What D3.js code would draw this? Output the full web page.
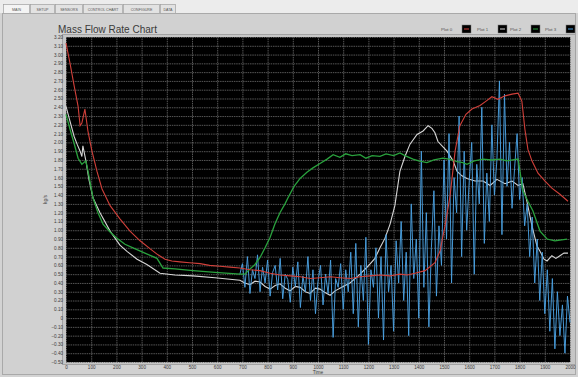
<!DOCTYPE html>
<html>
<head>
<meta charset="utf-8">
<script src="https://d3js.org/d3.v7.min.js"></script>
<style>
  body { margin: 0; background: #d3d3d3; }
  svg { display: block; }
  .axis text { fill: #3a3a3a; font-family: 'Liberation Sans', Arial, sans-serif; font-size: 4.6px; }
  .axis line { stroke: #6c6c6c; stroke-width: 0.8; }
  .axis path { stroke: none; }
</style>
</head>
<body>
<div id="chart"></div>
<script>
// ---- data (time in s, mass flow) ----
var tabNames = ['MAIN', 'SETUP', 'SENSORS', 'CONTROL CHART', 'CONFIGURE', 'DATA'];
var plotNames = ['Plot 0', 'Plot 1', 'Plot 2', 'Plot 3'];
var xTicks = [0,100,200,300,400,500,600,700,800,900,1000,1100,1200,1300,1400,1500,1600,1700,1800,1900,2000];
var yTicks = [-0.5,-0.4,-0.3,-0.2,-0.1,0,0.1,0.2,0.3,0.4,0.5,0.6,0.7,0.8,0.9,1.0,1.1,1.2,1.3,1.4,1.5,1.6,1.7,1.8,1.9,
              2.0,2.1,2.2,2.3,2.4,2.5,2.6,2.7,2.8,2.9,3.0,3.1,3.2];

var plot0 = [[0,3.13],[16,2.90],[32,2.65],[48,2.41],[56,2.19],[63,2.22],[75,2.38],[87,2.13],[103,1.90],[123,1.67],
  [143,1.47],[175,1.28],[214,1.13],[254,0.99],[294,0.88],[333,0.79],[365,0.72],[393,0.67],[420,0.65],[452,0.64],
  [490,0.63],[532,0.62],[570,0.60],[611,0.59],[650,0.58],[690,0.57],[730,0.55],[770,0.54],[810,0.51],[849,0.49],
  [890,0.48],[929,0.47],[970,0.45],[1008,0.46],[1050,0.47],[1087,0.46],[1130,0.45],[1167,0.47],[1205,0.48],[1246,0.49],
  [1285,0.48],[1325,0.50],[1355,0.49],[1385,0.51],[1425,0.54],[1464,0.63],[1484,0.76],[1504,1.05],[1524,1.39],[1544,1.90],
  [1563,2.19],[1587,2.32],[1611,2.38],[1643,2.42],[1667,2.47],[1690,2.52],[1714,2.49],[1742,2.53],[1770,2.55],[1794,2.56],
  [1809,2.47],[1821,2.15],[1833,1.92],[1849,1.79],[1873,1.65],[1901,1.56],[1928,1.48],[1960,1.41],[1992,1.33]];

var plot1 = [[0,2.41],[16,2.24],[32,2.07],[44,1.98],[56,1.90],[63,1.84],[67,1.96],[79,1.79],[91,1.58],[107,1.37],
  [135,1.20],[175,0.99],[214,0.83],[242,0.76],[282,0.67],[321,0.61],[373,0.51],[432,0.49],[504,0.48],[591,0.46],
  [690,0.43],[710,0.40],[730,0.38],[750,0.42],[770,0.41],[790,0.36],[810,0.33],[830,0.37],[849,0.39],[870,0.34],
  [889,0.31],[910,0.36],[929,0.35],[950,0.30],[968,0.28],[990,0.34],[1008,0.33],[1028,0.29],[1048,0.26],[1068,0.31],
  [1087,0.34],[1107,0.37],[1127,0.40],[1147,0.45],[1167,0.50],[1198,0.59],[1226,0.68],[1246,0.80],[1266,0.91],[1286,1.07],
  [1305,1.28],[1325,1.67],[1345,1.84],[1365,1.98],[1393,2.09],[1417,2.13],[1437,2.19],[1452,2.16],[1464,2.11],[1476,2.01],
  [1496,1.95],[1512,1.90],[1536,1.79],[1552,1.67],[1571,1.62],[1591,1.59],[1623,1.56],[1655,1.56],[1683,1.51],[1710,1.58],
  [1742,1.53],[1770,1.56],[1794,1.51],[1813,1.53],[1829,1.33],[1849,1.05],[1869,0.82],[1881,0.76],[1897,0.67],[1909,0.65],
  [1928,0.71],[1944,0.68],[1960,0.71],[1976,0.74],[1992,0.74]];

var plot2 = [[0,2.32],[16,2.15],[32,1.99],[48,1.82],[63,1.75],[79,1.79],[91,1.62],[107,1.37],[127,1.20],[147,1.07],
  [175,0.98],[202,0.91],[234,0.84],[266,0.80],[313,0.74],[361,0.68],[385,0.57],[432,0.56],[504,0.54],[591,0.52],
  [690,0.50],[710,0.50],[730,0.56],[750,0.61],[770,0.69],[790,0.80],[810,0.92],[829,1.07],[849,1.20],[869,1.30],
  [881,1.37],[905,1.50],[929,1.59],[956,1.66],[980,1.71],[1008,1.76],[1036,1.81],[1060,1.86],[1087,1.83],[1110,1.87],
  [1135,1.85],[1167,1.86],[1190,1.82],[1215,1.85],[1246,1.84],[1270,1.87],[1300,1.85],[1325,1.88],[1345,1.85],[1377,1.81],
  [1400,1.79],[1432,1.77],[1460,1.80],[1496,1.82],[1520,1.81],[1552,1.78],[1575,1.77],[1591,1.75],[1620,1.79],[1655,1.81],
  [1690,1.80],[1722,1.81],[1750,1.79],[1794,1.81],[1813,1.45],[1833,1.33],[1853,1.22],[1881,0.99],[1909,0.90],[1940,0.88],
  [1988,0.90]];

// plot 3 is sampled every 10 s from 690 s
var plot3Start = 690, plot3Step = 10;
var plot3 = [0.50,0.62,0.35,0.70,0.28,0.55,0.45,0.72,0.30,0.58,
  0.40,0.66,0.25,0.52,0.60,0.32,0.68,0.22,0.50,0.44,
  0.18,0.58,0.36,0.64,0.12,0.48,0.30,0.70,0.20,0.55,
  0.05,0.42,0.60,0.15,0.50,0.28,0.66,-0.22,0.45,0.35,
  0.62,0.10,0.55,0.30,0.75,0.05,
  0.85,-0.10,0.60,0.20,0.92,-0.30,0.55,0.35,0.80,0.00,
  0.70,-0.25,0.95,0.30,0.60,-0.15,0.88,0.40,
  1.10,0.20,0.75,-0.20,1.30,0.45,0.90,0.00,1.90,0.35,
  1.20,-0.10,0.80,1.45,0.25,1.05,
  0.60,1.80,0.90,2.10,0.40,1.60,1.20,2.30,0.70,1.90,
  1.00,1.55,2.00,0.50,1.75,1.30,2.40,0.85,1.65,1.10,
  2.20,1.40,1.80,2.70,0.95,2.55,1.50,2.00,1.25,1.70,
  2.10,1.35,
  1.60,1.05,1.30,0.70,1.15,0.40,0.90,0.20,0.75,0.05,
  0.55,-0.15,0.45,-0.35,0.30,-0.20,0.15,-0.40,0.25,-0.05];

var plotColors = ['#d0403a', '#d6d6d6', '#2aa23e', '#4aa0e0'];

// ---- layout ----
var width = 578, height = 377;
var plotLeft = 66, plotRight = 570, plotTop = 37, plotBottom = 362;

var svg = d3.select('#chart').append('svg')
  .attr('width', width).attr('height', height);

// window background
svg.append('rect').attr('x', 0).attr('y', 0).attr('width', width).attr('height', height).style('fill', '#d3d3d3');
svg.append('rect').attr('x', 0).attr('y', 0).attr('width', width).attr('height', 13).style('fill', '#ececec');
svg.append('rect').attr('x', 2.5).attr('y', 13.5).attr('width', 573).attr('height', 361)
  .style('fill', '#d1d1d1').style('stroke', '#a9a9a9');

// tabs
var tabX = [3, 30, 55, 83, 123, 160, 176];
tabNames.forEach(function(name, i) {
  svg.append('rect')
    .attr('x', tabX[i] + 0.5).attr('y', 4.5)
    .attr('width', tabX[i + 1] - tabX[i] - 1).attr('height', 9)
    .style('fill', i == 0 ? '#f4f4f4' : '#e2e2e2')
    .style('stroke', '#a0a0a0').style('stroke-width', 0.7);
  svg.append('text')
    .attr('x', (tabX[i] + tabX[i + 1]) / 2).attr('y', 10.5)
    .attr('text-anchor', 'middle')
    .text(name)
    .style('fill', '#555').style('font-family', 'Liberation Sans, Arial, sans-serif')
    .style('font-size', '3.6px');
});

// title
svg.append('text')
  .attr('x', 58).attr('y', 33)
  .text('Mass Flow Rate Chart')
  .style('fill', '#3a3a3a')
  .style('font-family', 'Liberation Sans, Arial, sans-serif')
  .style('font-size', '10px');

// legend
var legendX = [441, 477, 510, 545];
plotNames.forEach(function(name, i) {
  svg.append('text')
    .attr('x', legendX[i]).attr('y', 31)
    .text(name)
    .style('fill', '#555').style('font-family', 'Liberation Sans, Arial, sans-serif')
    .style('font-size', '4.4px');
  var bx = legendX[i] + 21;
  svg.append('rect').attr('x', bx).attr('y', 25).attr('width', 9).attr('height', 8)
    .style('fill', '#000').style('stroke', '#777').style('stroke-width', 0.5);
  svg.append('line').attr('x1', bx + 2).attr('x2', bx + 7).attr('y1', 29).attr('y2', 29)
    .style('stroke', plotColors[i]).style('stroke-width', 1);
});

// plot frame
svg.append('rect').attr('x', 62.5).attr('y', 34.5).attr('width', 513).attr('height', 330)
  .style('fill', '#c6c6c6').style('stroke', '#a3a3a3');
svg.append('rect').attr('x', plotLeft).attr('y', plotTop)
  .attr('width', plotRight - plotLeft).attr('height', plotBottom - plotTop)
  .style('fill', '#000');

var x = d3.scaleLinear().domain([0, 2000]).range([plotLeft, plotRight]);
var y = d3.scaleLinear().domain([-0.5, 3.2]).range([plotBottom, plotTop]);

// grid + axes
svg.append('g').attr('class', 'axis')
  .attr('transform', 'translate(0,' + plotBottom + ')')
  .call(d3.axisBottom(x).tickValues(xTicks).tickSize(-(plotBottom - plotTop)).tickPadding(4)
    .tickFormat(function(d) { return d; }));

svg.append('g').attr('class', 'axis')
  .attr('transform', 'translate(' + plotLeft + ',0)')
  .call(d3.axisLeft(y).tickValues(yTicks).tickSize(-(plotRight - plotLeft)).tickPadding(3)
    .tickFormat(function(d) { return Math.abs(d) < 1e-9 ? '0' : d3.format('.2f')(d); }));

svg.selectAll('.axis .tick line').style('stroke-dasharray', '1.5,0.8');

// axis names
svg.append('text')
  .attr('x', (plotLeft + plotRight) / 2).attr('y', 374)
  .attr('text-anchor', 'middle')
  .text('Time')
  .style('fill', '#3a3a3a').style('font-family', 'Liberation Sans, Arial, sans-serif')
  .style('font-size', '4.8px');
svg.append('text')
  .attr('transform', 'translate(47,' + ((plotTop + plotBottom) / 2) + ') rotate(-90)')
  .attr('text-anchor', 'middle')
  .text('kg/s')
  .style('fill', '#3a3a3a').style('font-family', 'Liberation Sans, Arial, sans-serif')
  .style('font-size', '4.8px');

// plots
var line = d3.line().x(function(d) { return x(d[0]); }).y(function(d) { return y(d[1]); });
var plot3Pts = plot3.map(function(v, i) { return [plot3Start + i * plot3Step, v]; });

var g = svg.append('g');
g.append('path').datum(plot1).attr('d', line)
  .style('fill', 'none').style('stroke', plotColors[1]).style('stroke-width', 1.1);
g.append('path').datum(plot3Pts).attr('d', line)
  .style('fill', 'none').style('stroke', plotColors[3]).style('stroke-width', 1).style('opacity', 0.95);
g.append('path').datum(plot2).attr('d', line)
  .style('fill', 'none').style('stroke', plotColors[2]).style('stroke-width', 1.3);
g.append('path').datum(plot0).attr('d', line)
  .style('fill', 'none').style('stroke', plotColors[0]).style('stroke-width', 1.1);
</script>
</body>
</html>
